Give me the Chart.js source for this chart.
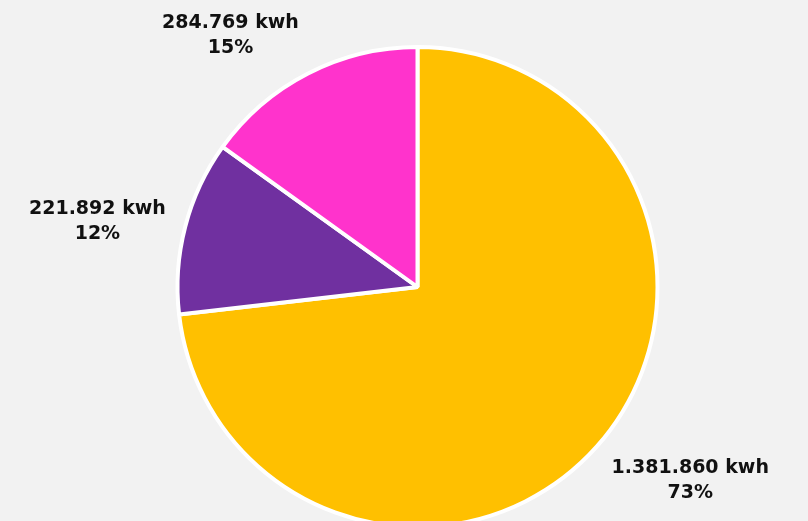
<!DOCTYPE html>
<html>
<head>
<meta charset="utf-8">
<title>Energie kwh</title>
<script src="https://cdn.jsdelivr.net/npm/chart.js@4.4.0/dist/chart.umd.min.js"></script>
<style>
    html, body {
        margin: 0;
        padding: 0;
        background: #f2f2f2;
        overflow: hidden;
        width: 808px;
        height: 521px;
    }
    canvas {
        display: block;
    }
</style>
</head>
<body>
<canvas id="pieChart" width="808" height="532"></canvas>
<script>
// Consumption per source (kwh)
const labels = ['Quelle A', 'Quelle B', 'Quelle C'];
const values = [1381860, 221892, 284769];
const colors = ['#ffc000', '#7030a0', '#ff33cc'];
const unit = 'kwh';

// 1381860 -> "1.381.860"
function formatNumber(n) {
    return String(Math.round(n)).replace(/\B(?=(\d{3})+(?!\d))/g, '.');
}

// Draw value + percent labels just outside each slice
const outsideLabels = {
    id: 'outsideLabels',
    afterDatasetsDraw(chart) {
        const ctx = chart.ctx;
        const meta = chart.getDatasetMeta(0);
        const data = chart.data.datasets[0].data;
        const total = data.reduce((a, b) => a + b, 0);
        const lineHeight = 25;

        ctx.save();
        ctx.font = 'bold 19px "DejaVu Sans", sans-serif';
        ctx.fillStyle = '#111';
        ctx.textAlign = 'center';
        ctx.textBaseline = 'middle';

        meta.data.forEach((arc, i) => {
            const p = arc.getProps(['x', 'y', 'startAngle', 'endAngle', 'outerRadius'], true);
            const mid = (p.startAngle + p.endAngle) / 2;
            const dx = Math.cos(mid);
            const dy = Math.sin(mid);
            const ax = p.x + dx * (p.outerRadius + 20);
            const ay = p.y + dy * (p.outerRadius + 20);

            const lines = [
                formatNumber(data[i]) + ' ' + unit,
                Math.round(data[i] / total * 100) + '%'
            ];
            const w = Math.max(...lines.map(t => ctx.measureText(t).width));
            const h = lineHeight * lines.length - 9;

            // anchor the label box edge/corner on the ray
            const sx = Math.abs(dx) < 0.35 ? 0 : Math.sign(dx);
            const sy = Math.abs(dy) < 0.35 ? 0 : Math.sign(dy);
            const cx = ax + sx * w / 2;
            const cy = ay + sy * h / 2;

            lines.forEach((t, j) => {
                ctx.fillText(t, cx, cy + lineHeight * (j - (lines.length - 1) / 2));
            });
        });
        ctx.restore();
    }
};

const ctx = document.getElementById('pieChart').getContext('2d');
new Chart(ctx, {
    type: 'pie',
    data: {
        labels: labels,
        datasets: [{
            data: values,
            backgroundColor: colors,
            borderColor: '#ffffff',
            borderWidth: 4
        }]
    },
    options: {
        responsive: false,
        animation: false,
        events: [],
        layout: {
            padding: { left: 175.5, right: 148.5, top: 45, bottom: 3 }
        },
        plugins: {
            legend: { display: false },
            tooltip: { enabled: false }
        }
    },
    plugins: [outsideLabels]
});
</script>
</body>
</html>
